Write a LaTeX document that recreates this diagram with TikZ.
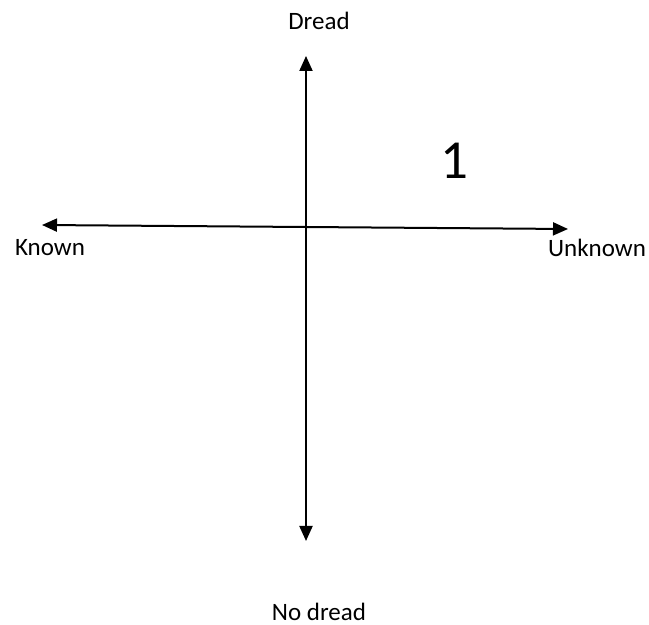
\documentclass[tikz,border=0pt]{standalone}
\usepackage{fontspec}
\setmainfont{Carlito}
\usetikzlibrary{positioning, arrows.meta}

\begin{document}
\begin{tikzpicture}[x=0.5pt, y=-0.5pt, every node/.style={font=\fontsize{12.5}{15}\selectfont, inner sep=0pt},
  axis/.style={{Triangle[length=7.5pt,width=6.5pt]}-{Triangle[length=7.5pt,width=6.5pt]}, line width=1pt, black},
  axislabel/.style={anchor=center},
  quadrant/.style={font=\fontsize{27.5}{30}\selectfont}]
\useasboundingbox (0,0) rectangle (649,625);

% Axis end points
\coordinate (top) at (306,56);
\coordinate (bottom) at (306,541);
\coordinate (left) at (42,225);
\coordinate (right) at (568,229);

% Axes
\draw[axis] (bottom) -- (top);
\draw[axis] (left) -- (right);

% Labels
\node[axislabel] (dread) at (319,21) {Dread};
\node[axislabel] (nodread) at (319,612) {No dread};
\node[axislabel] (known) at (50,248) {Known};
\node[axislabel] (unknown) at (597,248) {Unknown};
\node[quadrant] (q1) at (454,161) {1};
\end{tikzpicture}
\end{document}
